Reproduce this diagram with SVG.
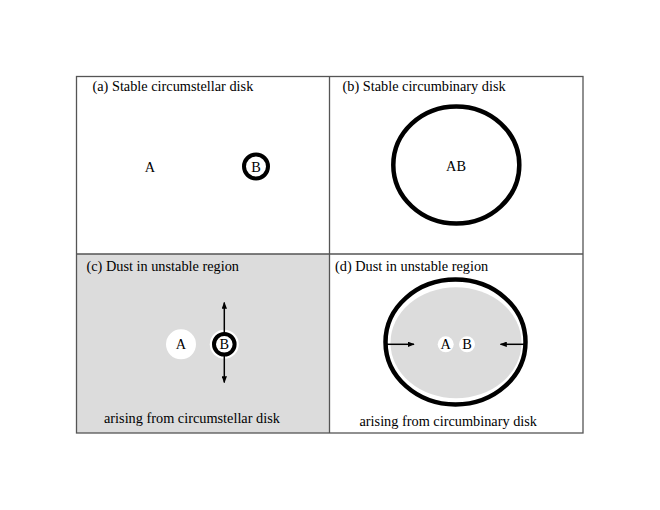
<svg xmlns="http://www.w3.org/2000/svg" width="660" height="510" viewBox="0 0 660 510">
<defs>
<style>
text{font-family:"Liberation Serif","Times New Roman",serif;font-size:14.3px;fill:#000}
.lbl{text-anchor:middle}
.frame{fill:none;stroke:#555;stroke-width:1.3}
.ring{fill:none;stroke:#000;stroke-width:4.5}
.conn{stroke:#000;stroke-width:1.5;fill:none}
</style>
<marker id="ah" viewBox="0 0 10 10" refX="9" refY="5" markerWidth="7" markerHeight="5.5" orient="auto" markerUnits="userSpaceOnUse" preserveAspectRatio="none">
<path d="M0,0 L10,5 L0,10 z" fill="#000"/>
</marker>
</defs>
<rect x="0" y="0" width="660" height="510" fill="#fff"/>
<g id="panels">
<rect x="76.5" y="254" width="253" height="179" fill="#dcdcdc"/>
<rect class="frame" x="76.5" y="76.5" width="506.5" height="356.5"/>
<line class="frame" x1="329.5" y1="76.5" x2="329.5" y2="433"/>
<line class="frame" x1="76.5" y1="254" x2="583" y2="254"/>
</g>
<g id="panel-a">
<text x="92.5" y="91">(a) Stable circumstellar disk</text>
<text class="lbl" x="150" y="171.5">A</text>
<circle cx="256" cy="166.5" r="12" fill="#fff" stroke="#000" stroke-width="4"/>
<text class="lbl" x="256" y="171.5">B</text>
</g>
<g id="panel-b">
<text x="342.5" y="91">(b) Stable circumbinary disk</text>
<ellipse class="ring" cx="456.3" cy="165" rx="63" ry="58.5"/>
<text class="lbl" x="456" y="171">AB</text>
</g>
<g id="panel-c">
<text x="86.5" y="271">(c) Dust in unstable region</text>
<circle cx="181" cy="344.3" r="15" fill="#fff"/>
<text class="lbl" x="181" y="349.3">A</text>
<circle cx="224.3" cy="344.3" r="14.5" fill="#fff"/>
<text x="104" y="423">arising from circumstellar disk</text>
</g>
<g id="panel-d">
<text x="335" y="271">(d) Dust in unstable region</text>
<ellipse cx="455.5" cy="342" rx="68" ry="60.5" fill="#fff"/>
<ellipse cx="456" cy="342.8" rx="65.5" ry="55.5" fill="#dcdcdc"/>
<ellipse class="ring" cx="455.5" cy="342" rx="70" ry="62.5"/>
<circle cx="445.7" cy="344.3" r="8" fill="#fff"/>
<text class="lbl" x="445.7" y="349.3">A</text>
<circle cx="467" cy="344.3" r="8" fill="#fff"/>
<text class="lbl" x="467" y="349.3">B</text>
<text x="359.5" y="425.5">arising from circumbinary disk</text>
</g>
<g id="connectors">
<line class="conn" x1="224.3" y1="333" x2="224.3" y2="302.5" marker-end="url(#ah)"/>
<line class="conn" x1="224.3" y1="356" x2="224.3" y2="382.5" marker-end="url(#ah)"/>
<line class="conn" x1="386" y1="344.3" x2="414" y2="344.3" marker-end="url(#ah)"/>
<line class="conn" x1="525" y1="344.3" x2="500.5" y2="344.3" marker-end="url(#ah)"/>
</g>
<g id="node-b-c">
<circle cx="224.3" cy="344.3" r="10.3" fill="#fff" stroke="#000" stroke-width="4"/>
<text class="lbl" x="224.3" y="349.3">B</text>
</g>
</svg>
